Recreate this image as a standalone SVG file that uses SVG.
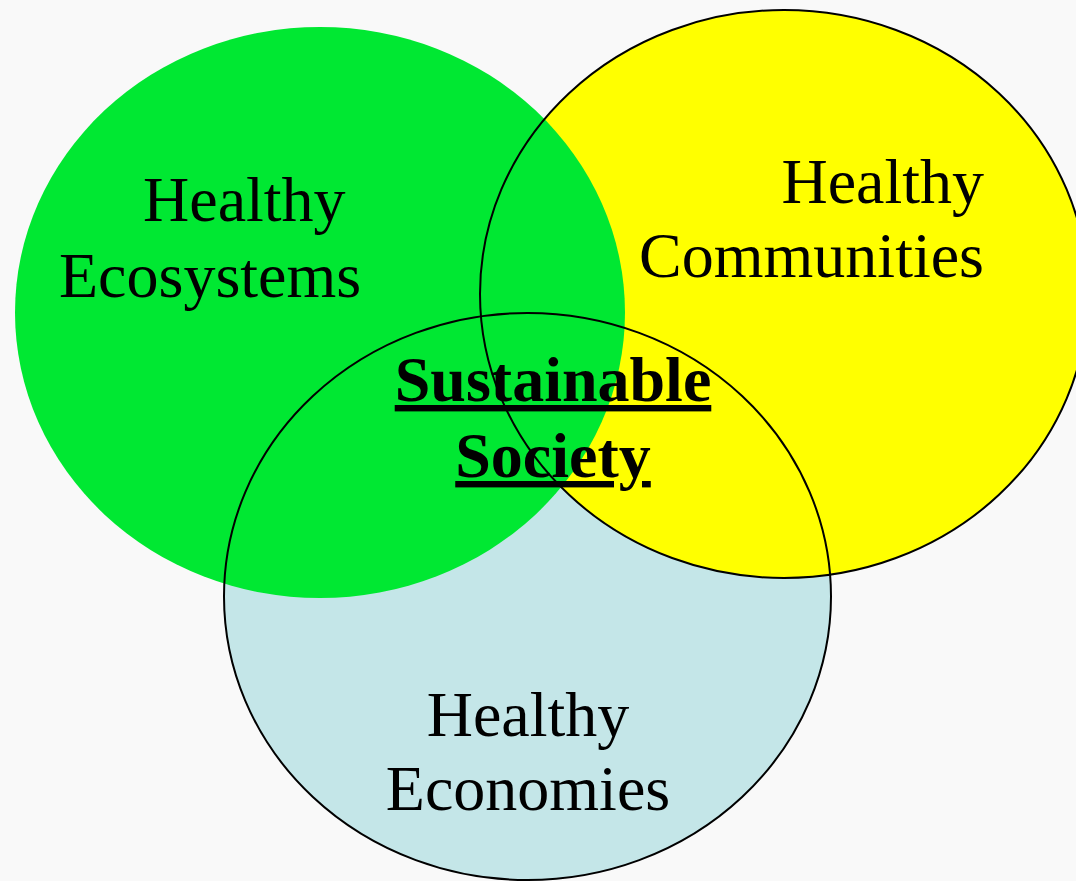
<svg xmlns="http://www.w3.org/2000/svg" width="1076" height="881" viewBox="0 0 1076 881">
<style>
.lbl{font-family:"Liberation Serif","Times New Roman",serif;font-size:64px;fill:#000}
.ctr{font-weight:bold;text-decoration:underline}
.ring{fill:none;stroke:#000;stroke-width:2}
</style>
<rect width="1076" height="881" fill="#f9f9f9"/>
<g id="economies-fill"><ellipse cx="527.5" cy="596.5" rx="303.5" ry="283.5" fill="#c4e6e8"/></g>
<g id="communities-fill"><ellipse cx="784" cy="294" rx="304" ry="284" fill="#ffff00"/></g>
<g id="ecosystems"><ellipse cx="320" cy="312.5" rx="305" ry="285.5" fill="#00e832"/>
<text class="lbl" x="143" y="221">Healthy</text>
<text class="lbl" x="59" y="297">Ecosystems</text></g>
<g id="communities"><ellipse class="ring" cx="784" cy="294" rx="304" ry="284"/>
<text class="lbl" x="984" y="203" text-anchor="end">Healthy</text>
<text class="lbl" x="984" y="277" text-anchor="end">Communities</text></g>
<g id="economies"><ellipse class="ring" cx="527.5" cy="596.5" rx="303.5" ry="283.5"/>
<text class="lbl" x="528" y="736" text-anchor="middle">Healthy</text>
<text class="lbl" x="528" y="810" text-anchor="middle">Economies</text></g>
<g id="society">
<text class="lbl ctr" x="553" y="401" text-anchor="middle">Sustainable</text>
<text class="lbl ctr" x="553" y="477" text-anchor="middle">Society</text></g>
<g id="connectors"/>
</svg>
